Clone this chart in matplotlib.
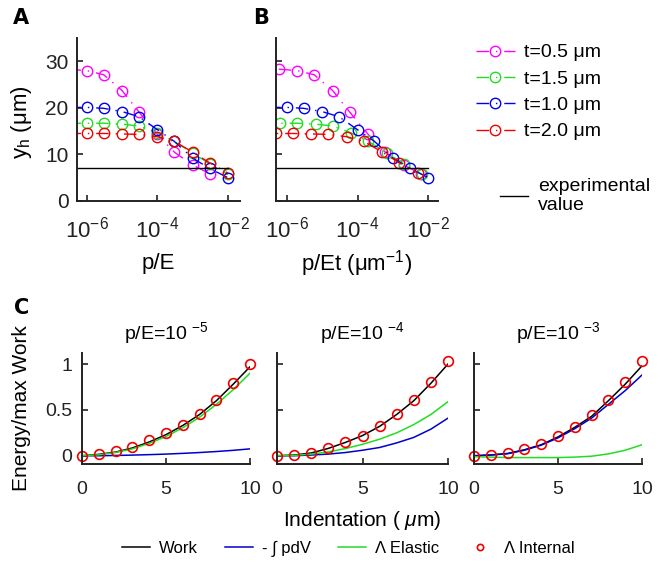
import matplotlib
matplotlib.use("Agg")
import matplotlib.pyplot as plt
from matplotlib.lines import Line2D
import numpy as np

plt.rcParams["font.family"] = ["Liberation Sans", "DejaVu Sans"]
plt.rcParams["mathtext.fontset"] = "custom"
plt.rcParams["mathtext.rm"] = "Liberation Sans"
plt.rcParams["mathtext.it"] = "Liberation Sans:italic"
plt.rcParams["mathtext.bf"] = "Liberation Sans:bold"

# --- data: panels A / B ---
p_over_E = [3e-7, 1e-6, 3e-6, 1e-5, 3e-5, 1e-4, 3e-4, 1e-3, 3e-3, 1e-2]
thickness = [0.5, 1.5, 1.0, 2.0]
yh_t05 = [28.3, 28.0, 27.1, 23.7, 19.1, 14.3, 10.5, 7.7, 5.9]
yh_t15 = [16.7, 16.7, 16.7, 16.5, 16.1, 14.6, 12.8, 10.3, 8.0, 5.7]
yh_t10 = [20.1, 20.1, 19.9, 19.2, 18.1, 15.3, 12.8, 9.2, 7.0, 5.0]
yh_t20 = [14.5, 14.5, 14.5, 14.4, 14.3, 13.8, 12.8, 10.5, 8.2, 6.0]
yh_series = [yh_t05, yh_t15, yh_t10, yh_t20]
series_labels = ["t=0.5 μm", "t=1.5 μm", "t=1.0 μm", "t=2.0 μm"]
series_colors = ["#ff00ff", "#22dd22", "#0000ee", "#ee0000"]
experimental_yh = 7.0

# --- data: panel C ---
indent = [0, 1, 2, 3, 4, 5, 6, 7, 8, 9, 10]
titles_C = [r"p/E=10$\ ^{-5}$", r"p/E=10$\ ^{-4}$", r"p/E=10$\ ^{-3}$"]
work = [
    [0, 0.015, 0.04, 0.085, 0.15, 0.23, 0.33, 0.45, 0.6, 0.78, 0.97],
    [0, 0.008, 0.03, 0.08, 0.145, 0.22, 0.32, 0.45, 0.6, 0.79, 1.0],
    [0, 0.008, 0.025, 0.065, 0.12, 0.205, 0.31, 0.43, 0.6, 0.78, 0.98],
]
pdv = [
    [0, 0.0, 0.003, 0.007, 0.012, 0.018, 0.026, 0.035, 0.046, 0.059, 0.075],
    [0, 0.0, 0.008, 0.018, 0.035, 0.06, 0.09, 0.14, 0.2, 0.29, 0.41],
    [0, 0.008, 0.022, 0.06, 0.115, 0.195, 0.295, 0.41, 0.56, 0.71, 0.88],
]
elastic = [
    [0, 0.01, 0.035, 0.075, 0.135, 0.21, 0.305, 0.42, 0.56, 0.72, 0.9],
    [0, 0.004, 0.018, 0.042, 0.078, 0.125, 0.18, 0.25, 0.34, 0.45, 0.59],
    [-0.01, -0.015, -0.02, -0.02, -0.02, -0.02, -0.015, -0.005, 0.02, 0.06, 0.12],
]
internal = [
    [0, 0.02, 0.05, 0.1, 0.17, 0.25, 0.34, 0.46, 0.61, 0.79, 1.0],
    [0, 0.01, 0.035, 0.085, 0.15, 0.22, 0.325, 0.455, 0.61, 0.8, 1.03],
    [0, 0.01, 0.027, 0.07, 0.125, 0.21, 0.314, 0.44, 0.61, 0.805, 1.03],
]

W, H = 672, 563
fig = plt.figure(figsize=(W / 100, H / 100), dpi=100)


def box(l, r, t, b):
    return [l / W, 1 - b / H, (r - l) / W, (b - t) / H]


def style_axes(ax):
    for s in ["top", "right"]:
        ax.spines[s].set_visible(False)
    for s in ["left", "bottom"]:
        ax.spines[s].set_linewidth(1.4)
        ax.spines[s].set_color("#222222")
    ax.tick_params(direction="in", length=4, width=1.2, colors="#222222")


dash_dot = (0, (9, 5, 1, 5))

axA = fig.add_axes(box(77, 240, 38, 201))
axB = fig.add_axes(box(276, 438, 38, 201))
for k, ax in enumerate([axA, axB]):
    style_axes(ax)
    for ys, t, c, lab in zip(yh_series, thickness, series_colors, series_labels):
        xs = np.array(p_over_E[: len(ys)])
        if k == 1:
            xs = xs / t
        ax.plot(xs, ys, linestyle=dash_dot, color=c, lw=1.0, marker="o",
                ms=7.5, mfc="none", mew=1.0, label=lab)
    ax.plot([1e-7, 1e-2], [experimental_yh, experimental_yh], color="black", lw=1.0)
    ax.set_xscale("log")
    ax.set_xticks([1e-6, 1e-4, 1e-2])
    ax.xaxis.set_minor_locator(matplotlib.ticker.NullLocator())
    ax.set_ylim(0, 35)
    ax.set_yticks([0, 10, 20, 30])
    ax.tick_params(axis="x", labelsize=16, pad=11)
    ax.tick_params(axis="y", labelsize=15, pad=6)
axA.set_xlim(10 ** -6.28, 10 ** -1.66)
axB.set_xlim(10 ** -6.30, 10 ** -1.73)
axB.set_yticklabels([])

fig.text(22 / W, 1 - 122 / H, "y$_{\\mathrm{h}}$ (μm)", rotation=90,
         ha="center", va="center", fontsize=16)
fig.text(158 / W, 1 - 264 / H, "p/E", ha="center", va="center", fontsize=16)
fig.text(357 / W, 1 - 264 / H, "p/Et (μm$^{-1}$)", ha="center", va="center",
         fontsize=16)

handles, labels = axA.get_legend_handles_labels()
fig.legend(handles, labels, loc="upper left", bbox_to_anchor=(468 / W, 1 - 36 / H),
           frameon=False, fontsize=14, handlelength=2.0, handletextpad=0.5,
           labelspacing=0.45, borderaxespad=0)
fig.legend([Line2D([], [], color="black", lw=1.0)], ["experimental\nvalue"],
           loc="upper left", bbox_to_anchor=(492 / W, 1 - 170 / H),
           frameon=False, fontsize=14, handlelength=1.45, handletextpad=0.5,
           borderaxespad=0)

# --- panel C ---
c_boxes = [box(82, 250, 353, 464), box(277, 448, 353, 464), box(474, 642, 353, 464)]
for i, b in enumerate(c_boxes):
    ax = fig.add_axes(b)
    style_axes(ax)
    ax.plot(indent, work[i], color="black", lw=1.1)
    ax.plot(indent, pdv[i], color="#0000cc", lw=1.1)
    ax.plot(indent, elastic[i], color="#22dd22", lw=1.1)
    ax.plot(indent, internal[i], linestyle="none", marker="o", ms=7, mfc="none",
            mec="#ee0000", mew=1.2, clip_on=False)
    ax.set_xlim(0, 10)
    ax.set_ylim(-0.09, 1.12)
    ax.set_xticks([0, 5, 10])
    ax.set_yticks([0, 0.5, 1])
    ax.set_yticklabels(["0", "0.5", "1"])
    ax.tick_params(axis="x", labelsize=14, pad=12)
    ax.tick_params(axis="y", labelsize=14, pad=7)
    if i > 0:
        ax.set_yticklabels([])
    ax.set_title(titles_C[i], fontsize=14, pad=10)

fig.text(22 / W, 1 - 408 / H, "Energy/max Work", rotation=90, ha="center",
         va="center", fontsize=15)
fig.text(362 / W, 1 - 520 / H, r"Indentation ( $\mu$m)", ha="center", va="center",
         fontsize=15)

leg_handles = [
    Line2D([], [], color="black", lw=1.1),
    Line2D([], [], color="#0000cc", lw=1.1),
    Line2D([], [], color="#22dd22", lw=1.1),
    Line2D([], [], linestyle="none", marker="o", ms=4.5, mfc="none",
           mec="#ee0000", mew=1.2),
]
leg_labels = ["Work", "- ∫ pdV", "Λ Elastic", "Λ Internal"]
fig.legend(leg_handles, leg_labels, loc="center", bbox_to_anchor=(348 / W, 1 - 549 / H),
           ncol=4, frameon=False, fontsize=12, handlelength=1.7, handletextpad=0.55,
           columnspacing=1.6, borderaxespad=0)

for lab, x, y in [("A", 13, 18), ("B", 253, 18), ("C", 14, 308)]:
    fig.text(x / W, 1 - y / H, lab, fontsize=15, fontweight="bold",
             family=["Liberation Sans Narrow", "DejaVu Sans"], ha="left", va="center")

fig.savefig("out.png", dpi=100)
